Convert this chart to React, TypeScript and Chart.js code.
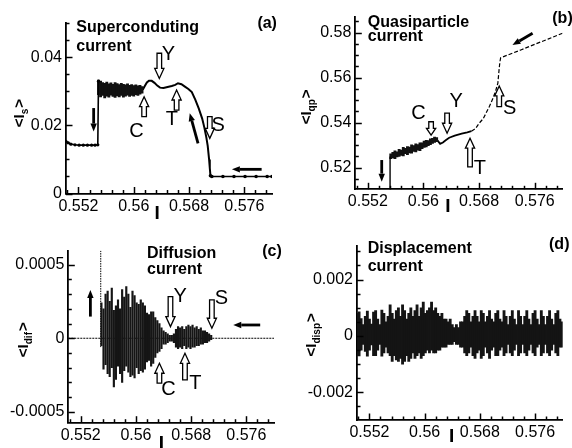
import React, { useEffect, useRef } from 'react';
import { Chart, registerables } from 'chart.js';
Chart.register(...registerables);

const W = 572;
const H = 448;
const FONT = '"Liberation Sans", Arial, Helvetica, sans-serif';

// ---------- shared axis data ----------
const X_MIN = 0.5502;
const X_MAX = 0.58;
const xTickValues = [0.552, 0.56, 0.568, 0.576];

// ---------- panel (a): superconducting current ----------
const aTicks = [0, 0.02, 0.04];
const aLeftX = [0.5502, 0.5505, 0.5509, 0.5515, 0.5521, 0.5527, 0.5533, 0.5539, 0.5544, 0.5548, 0.5549];
const aLeftY = [0.0153, 0.0149, 0.0145, 0.0143, 0.0142, 0.0142, 0.0142, 0.0142, 0.0142, 0.0143, 0.0330];
const aNoiseX = [0.5549, 0.5552, 0.5555, 0.5558, 0.5561, 0.5564, 0.5567, 0.557, 0.5573, 0.5576, 0.5579, 0.5582, 0.5585, 0.5588, 0.5591, 0.5594, 0.5597, 0.56, 0.5603, 0.5606, 0.5609, 0.5612];
const aNoiseLo = [0.029, 0.0284, 0.0288, 0.0281, 0.0286, 0.0283, 0.0289, 0.0285, 0.0282, 0.0287, 0.0284, 0.0288, 0.0283, 0.0286, 0.0289, 0.0285, 0.0288, 0.0286, 0.029, 0.0288, 0.0292, 0.0295];
const aNoiseHi = [0.0333, 0.033, 0.0326, 0.0324, 0.0327, 0.0322, 0.0325, 0.0321, 0.0326, 0.0323, 0.032, 0.0324, 0.0321, 0.0319, 0.0322, 0.0318, 0.032, 0.0317, 0.0319, 0.0316, 0.0318, 0.0314];
const aMidX = [0.5613, 0.5616, 0.5619, 0.5622, 0.5626, 0.563, 0.5634, 0.5638, 0.5643, 0.5649, 0.5655, 0.566, 0.5664, 0.5669, 0.5674, 0.5679, 0.5684, 0.5689, 0.5694, 0.5699, 0.5702, 0.5705, 0.5707, 0.5709, 0.571, 0.5711];
const aMidY = [0.0305, 0.0316, 0.0326, 0.0331, 0.0331, 0.0325, 0.0317, 0.0311, 0.031, 0.0313, 0.0316, 0.0319, 0.0324, 0.0321, 0.0314, 0.0307, 0.0298, 0.0276, 0.025, 0.022, 0.0195, 0.0165, 0.014, 0.01, 0.0075, 0.0052];
const aRightX = [0.5711, 0.5713, 0.5729, 0.5745, 0.5761, 0.5777, 0.5793, 0.58];
const aRightY = [0.0052, 0.005, 0.005, 0.005, 0.005, 0.005, 0.005, 0.005];

// ---------- panel (b): quasiparticle current ----------
const bTicks = [0.52, 0.54, 0.56, 0.58];
const bRiseX = [0.5552, 0.5552];
const bRiseY = [0.505, 0.525];
const bNoiseX = [0.5553, 0.5556, 0.5559, 0.5562, 0.5565, 0.5568, 0.5571, 0.5574, 0.5577, 0.558, 0.5583, 0.5586, 0.5589, 0.5592, 0.5595, 0.5598, 0.5601, 0.5604, 0.5607, 0.561, 0.5613, 0.5616, 0.5619];
const bNoiseLo = [0.524, 0.5243, 0.524, 0.5248, 0.525, 0.5255, 0.5252, 0.5262, 0.5258, 0.5266, 0.5264, 0.5272, 0.527, 0.5278, 0.5276, 0.5284, 0.529, 0.5292, 0.5298, 0.5302, 0.5308, 0.5312, 0.5316];
const bNoiseHi = [0.5262, 0.5268, 0.5275, 0.527, 0.5282, 0.5278, 0.529, 0.5286, 0.5294, 0.5292, 0.5301, 0.5298, 0.5306, 0.5303, 0.531, 0.531, 0.5318, 0.5322, 0.532, 0.5328, 0.533, 0.5336, 0.5334];
const bMidX = [0.5619, 0.5621, 0.5624, 0.5628, 0.5632, 0.5637, 0.5645, 0.5655, 0.5663, 0.5669];
const bMidY = [0.5325, 0.5318, 0.5306, 0.5312, 0.5322, 0.5333, 0.5342, 0.5351, 0.5357, 0.5362];
const bUpX = [0.5669, 0.5675, 0.568, 0.5686, 0.569, 0.5695, 0.57, 0.5704, 0.5707, 0.5709, 0.571, 0.5711, 0.572, 0.574, 0.576, 0.578, 0.58];
const bUpY = [0.5362, 0.5374, 0.5397, 0.5418, 0.5442, 0.5473, 0.5508, 0.5543, 0.5575, 0.5642, 0.567, 0.5688, 0.5699, 0.5723, 0.5748, 0.5772, 0.5797];

// ---------- panel (c): diffusion current ----------
const cTicks = [-0.0005, 0, 0.0005];
const cZeroX = [0.5502, 0.58];
const cZeroY = [0, 0];
const cSpikeX = [0.5549, 0.5549];
const cSpikeY = [-0.00006, 0.0006];
const cNoiseX = [0.555, 0.5553, 0.5556, 0.5559, 0.5562, 0.5565, 0.5568, 0.5571, 0.5574, 0.5577, 0.558, 0.5583, 0.5586, 0.5589, 0.5592, 0.5595, 0.5598, 0.5601, 0.5604, 0.5607, 0.561, 0.5613, 0.5616, 0.5619, 0.5622, 0.5625, 0.5628, 0.5631, 0.5634, 0.5637, 0.564, 0.5643, 0.5646, 0.5649, 0.5652, 0.5655, 0.5658, 0.5661, 0.5664, 0.5667, 0.567, 0.5673, 0.5676, 0.5679, 0.5682, 0.5685, 0.5688, 0.5691, 0.5694, 0.5697, 0.57, 0.5703, 0.5706, 0.5709];
const cNoiseHi = [0.00024, 0.0002, 0.0003, 0.00032, 0.00025, 0.00034, 0.00019, 0.00022, 0.00026, 0.0002, 0.00033, 0.00028, 0.00035, 0.0003, 0.00021, 0.00032, 0.00029, 0.00024, 0.00023, 0.00026, 0.00024, 0.00022, 0.00017, 0.00016, 0.00018, 0.00018, 0.00014, 0.00012, 0.0001, 0.00007, 0.00005, 0.00004, 0.00003, 0.00002, 0.00002, 0.00003, 0.00006, 0.00008, 0.00007, 0.00008, 0.00006, 0.00008, 0.00009, 0.00008, 0.00009, 0.00007, 0.00008, 0.00006, 0.00007, 0.00005, 0.00005, 0.00004, 0.00003, 0.00002];
const cNoiseLo = [-0.00005, -0.00021, -0.00018, -0.00024, -0.00026, -0.0002, -0.00033, -0.00028, -0.00019, -0.00024, -0.0003, -0.00022, -0.00019, -0.00023, -0.00026, -0.00025, -0.00027, -0.0002, -0.00024, -0.00022, -0.00023, -0.00021, -0.00016, -0.00015, -0.00019, -0.00017, -0.00013, -0.0001, -0.00009, -0.00007, -0.00004, -0.00004, -0.00003, -0.00002, -0.00002, -0.00003, -0.00006, -0.00007, -0.00006, -0.00007, -0.00005, -0.00007, -0.00006, -0.00007, -0.00006, -0.00006, -0.00005, -0.00005, -0.00004, -0.00004, -0.00003, -0.00003, -0.00002, -0.00001];

// ---------- panel (d): displacement current ----------
const dTicks = [-0.002, 0, 0.002];
const dNoiseX = [0.5502, 0.5505, 0.5508, 0.5511, 0.5514, 0.5517, 0.552, 0.5523, 0.5526, 0.5529, 0.5532, 0.5535, 0.5538, 0.5541, 0.5544, 0.5547, 0.555, 0.5553, 0.5556, 0.5559, 0.5562, 0.5565, 0.5568, 0.5571, 0.5574, 0.5577, 0.558, 0.5583, 0.5586, 0.5589, 0.5592, 0.5595, 0.5598, 0.5601, 0.5604, 0.5607, 0.561, 0.5613, 0.5616, 0.5619, 0.5622, 0.5625, 0.5628, 0.5631, 0.5634, 0.5637, 0.564, 0.5643, 0.5646, 0.5649, 0.5652, 0.5655, 0.5658, 0.5661, 0.5664, 0.5667, 0.567, 0.5673, 0.5676, 0.5679, 0.5682, 0.5685, 0.5688, 0.5691, 0.5694, 0.5697, 0.57, 0.5703, 0.5706, 0.5709, 0.5712, 0.5715, 0.5718, 0.5721, 0.5724, 0.5727, 0.573, 0.5733, 0.5736, 0.5739, 0.5742, 0.5745, 0.5748, 0.5751, 0.5754, 0.5757, 0.576, 0.5763, 0.5766, 0.5769, 0.5772, 0.5775, 0.5778, 0.5781, 0.5784, 0.5787, 0.579, 0.5793, 0.5796, 0.5799];
const dNoiseHi = [0.0008, 0.00086, 0.00062, 0.0004, 0.0007, 0.00088, 0.0006, 0.00042, 0.00085, 0.0009, 0.0006, 0.0004, 0.00092, 0.0008, 0.0005, 0.0007, 0.0011, 0.0008, 0.0006, 0.0009, 0.001, 0.0007, 0.0011, 0.0009, 0.0006, 0.0008, 0.001, 0.0007, 0.0009, 0.0011, 0.0007, 0.001, 0.0012, 0.0008, 0.0009, 0.001, 0.0012, 0.0009, 0.001, 0.0008, 0.0007, 0.0008, 0.0006, 0.0006, 0.0005, 0.0006, 0.0004, 0.0003, 0.0004, 0.0003, 0.0005, 0.0005, 0.0007, 0.0009, 0.0008, 0.0005, 0.0007, 0.0009, 0.0007, 0.0005, 0.0009, 0.0008, 0.0005, 0.0007, 0.0009, 0.0006, 0.0005, 0.0008, 0.0009, 0.0006, 0.0005, 0.0009, 0.0007, 0.0004, 0.0007, 0.0009, 0.0006, 0.0004, 0.0009, 0.0007, 0.0004, 0.0007, 0.0009, 0.0006, 0.0004, 0.0008, 0.0009, 0.0006, 0.0004, 0.0009, 0.0007, 0.0004, 0.0007, 0.0009, 0.0006, 0.0004, 0.0008, 0.0009, 0.0006, 0.0005];
const dNoiseLo = [-0.0007, -0.00071, -0.0005, -0.0003, -0.00055, -0.00072, -0.0005, -0.00032, -0.0007, -0.0007, -0.0005, -0.0003, -0.00072, -0.0006, -0.0004, -0.0006, -0.0007, -0.0009, -0.0007, -0.00085, -0.0009, -0.0008, -0.001, -0.0009, -0.0007, -0.0009, -0.0008, -0.0006, -0.0008, -0.0007, -0.0006, -0.0008, -0.0007, -0.0006, -0.0005, -0.0006, -0.0005, -0.0006, -0.0006, -0.0005, -0.0005, -0.0004, -0.0004, -0.0004, -0.0003, -0.0003, -0.0003, -0.0002, -0.0003, -0.0003, -0.0004, -0.0004, -0.0006, -0.0007, -0.0006, -0.0004, -0.0007, -0.0008, -0.0006, -0.0005, -0.0008, -0.0007, -0.0004, -0.0006, -0.0008, -0.0005, -0.0004, -0.0007, -0.0007, -0.0005, -0.0004, -0.0007, -0.0006, -0.0003, -0.0006, -0.0007, -0.0005, -0.0003, -0.0007, -0.0006, -0.0003, -0.0006, -0.0007, -0.0005, -0.0003, -0.0006, -0.0007, -0.0004, -0.0003, -0.0007, -0.0006, -0.0003, -0.0006, -0.0007, -0.0005, -0.0003, -0.0006, -0.0007, -0.0004, -0.0004];

// ---------- helpers ----------
const pts = (xs: number[], ys: number[]) => xs.map((x, i) => ({ x, y: ys[i] }));
const cols = (xs: number[], lo: number[], hi: number[]) => xs.map((x, i) => ({ x, y: [lo[i], hi[i]] }));

const lineDs = (data: any[], extra: any = {}) => ({
  type: 'line',
  data,
  borderColor: '#000',
  backgroundColor: '#000',
  borderWidth: 1.6,
  pointRadius: 0,
  pointBorderWidth: 0,
  pointBackgroundColor: '#000',
  tension: 0,
  fill: false,
  ...extra,
});
const barDs = (data: any[], thick: number, color = '#111') => ({
  type: 'bar',
  data,
  backgroundColor: color,
  borderWidth: 0,
  barThickness: thick,
  grouped: false,
});

type Spec = {
  area: { left: number; top: number; right: number; bottom: number };
  yMin: number; yMax: number; yTicks: number[]; yMinor: number[];
  datasets: any[];
  titles: { text: string; x: number; y: number }[];
  tag: { text: string; x: number; y: number };
  hollow: { x: number; tail: number; tip: number }[];
  solid: { x1: number; y1: number; x2: number; y2: number }[];
  letters: { t: string; x: number; y: number }[];
  yTitle: { sub: string; dx: number; y: number };
  xTitle: { x: number; dy: number };
};

const xMinor: number[] = [];
for (let k = 0; 0.5504 + k * 0.0016 <= X_MAX + 1e-9; k++) xMinor.push(+(0.5504 + k * 0.0016).toFixed(5));
const range = (a: number, b: number, s: number) => {
  const r: number[] = [];
  for (let k = 0; a + k * s <= b + s * 1e-6; k++) r.push(+(a + k * s).toFixed(6));
  return r;
};

const specs: Spec[] = [
  {
    area: { left: 66, top: 23.3, right: 272, bottom: 193.5 },
    yMin: 0, yMax: 0.05, yTicks: aTicks, yMinor: range(0, 0.05, 0.005),
    datasets: [
      lineDs(pts(aLeftX, aLeftY), { pointRadius: 1.6 }),
      barDs(cols(aNoiseX, aNoiseLo, aNoiseHi), 2.2),
      lineDs(pts(aMidX, aMidY), { borderWidth: 2 }),
      lineDs(pts(aRightX, aRightY), { pointRadius: 1.8, borderWidth: 1.3 }),
    ],
    titles: [{ text: 'Superconduting', x: 0.5517, y: 0.0486 }, { text: 'current', x: 0.5517, y: 0.0431 }],
    tag: { text: '(a)', x: 0.5793, y: 0.05 },
    hollow: [
      { x: 0.5615, tail: 0.0226, tip: 0.0284 },
      { x: 0.5637, tail: 0.0412, tip: 0.0338 },
      { x: 0.5662, tail: 0.0245, tip: 0.0304 },
      { x: 0.571, tail: 0.0226, tip: 0.0162 },
    ],
    solid: [
      { x1: 0.5542, y1: 0.0251, x2: 0.5542, y2: 0.0182 },
      { x1: 0.5693, y1: 0.0147, x2: 0.5681, y2: 0.0236 },
      { x1: 0.5785, y1: 0.0071, x2: 0.5742, y2: 0.0071 },
    ],
    letters: [
      { t: 'C', x: 0.5604, y: 0.0182 },
      { t: 'Y', x: 0.565, y: 0.0407 },
      { t: 'T', x: 0.5655, y: 0.0216 },
      { t: 'S', x: 0.5722, y: 0.0201 },
    ],
    yTitle: { sub: 's', dx: -46, y: 0.0236 },
    xTitle: { x: 0.5634, dy: 13.5 },
  },
  {
    area: { left: 355.3, top: 17.3, right: 562.5, bottom: 189.3 },
    yMin: 0.5104, yMax: 0.5868, yTicks: bTicks, yMinor: range(0.515, 0.585, 0.005),
    datasets: [
      lineDs(pts(bRiseX, bRiseY), { borderWidth: 1.4 }),
      barDs(cols(bNoiseX, bNoiseLo, bNoiseHi), 2.2),
      lineDs(pts(bMidX, bMidY), { borderWidth: 1.8 }),
      lineDs(pts(bUpX, bUpY), { borderWidth: 1.2, borderDash: [4, 2] }),
    ],
    titles: [{ text: 'Quasiparticle', x: 0.552, y: 0.5844 }, { text: 'current', x: 0.552, y: 0.5782 }],
    tag: { text: '(b)', x: 0.58, y: 0.5864 },
    hollow: [
      { x: 0.5611, tail: 0.5404, tip: 0.5345 },
      { x: 0.5634, tail: 0.5442, tip: 0.5353 },
      { x: 0.5667, tail: 0.5204, tip: 0.5331 },
      { x: 0.5709, tail: 0.5471, tip: 0.5563 },
    ],
    solid: [
      { x1: 0.554, y1: 0.5234, x2: 0.554, y2: 0.5138 },
      { x1: 0.5757, y1: 0.5797, x2: 0.5728, y2: 0.5745 },
    ],
    letters: [
      { t: 'C', x: 0.5593, y: 0.5442 },
      { t: 'Y', x: 0.5647, y: 0.5493 },
      { t: 'T', x: 0.5681, y: 0.5197 },
      { t: 'S', x: 0.5724, y: 0.5464 },
    ],
    yTitle: { sub: 'qp', dx: -48, y: 0.547 },
    xTitle: { x: 0.5635, dy: 10.7 },
  },
  {
    area: { left: 68.3, top: 250.7, right: 274, bottom: 422.7 },
    yMin: -0.000573, yMax: 0.000594, yTicks: cTicks, yMinor: range(-0.0005, 0.0005, 0.0001),
    datasets: [
      barDs(cols(cNoiseX, cNoiseLo, cNoiseHi), 1.5, '#151515'),
      lineDs(pts(cSpikeX, cSpikeY), { borderWidth: 1, borderDash: [1.5, 1] }),
      lineDs(pts(cZeroX, cZeroY), { borderWidth: 1.2, borderDash: [2, 1] }),
    ],
    titles: [{ text: 'Diffusion', x: 0.5616, y: 0.000577 }, { text: 'current', x: 0.5616, y: 0.000463 }],
    tag: { text: '(c)', x: 0.5797, y: 0.000588 },
    hollow: [
      { x: 0.565, tail: 0.000282, tip: 0.000079 },
      { x: 0.571, tail: 0.00026, tip: 0.000068 },
      { x: 0.5634, tail: -0.000305, tip: -0.00017 },
      { x: 0.5671, tail: -0.000283, tip: -0.000102 },
    ],
    solid: [
      { x1: 0.5534, y1: 0.000147, x2: 0.5534, y2: 0.000328 },
      { x1: 0.578, y1: 0.00009, x2: 0.5741, y2: 0.00009 },
    ],
    letters: [
      { t: 'Y', x: 0.5664, y: 0.000282 },
      { t: 'S', x: 0.5724, y: 0.000271 },
      { t: 'C', x: 0.5647, y: -0.00035 },
      { t: 'T', x: 0.5686, y: -0.000305 },
    ],
    yTitle: { sub: 'dif', dx: -44, y: -0.00001 },
    xTitle: { x: 0.5637, dy: 14.3 },
  },
  {
    area: { left: 357, top: 246, right: 562.7, bottom: 420 },
    yMin: -0.00298, yMax: 0.00319, yTicks: dTicks, yMinor: range(-0.0025, 0.003, 0.0005),
    datasets: [barDs(cols(dNoiseX, dNoiseLo, dNoiseHi), 2.2, '#141414')],
    titles: [{ text: 'Displacement', x: 0.55175, y: 0.00311 }, { text: 'current', x: 0.55175, y: 0.00246 }],
    tag: { text: '(d)', x: 0.5795, y: 0.00323 },
    hollow: [],
    solid: [],
    letters: [],
    yTitle: { sub: 'disp', dx: -45, y: 0.00004 },
    xTitle: { x: 0.5639, dy: 10 },
  },
];

function hollowArrow(ctx: CanvasRenderingContext2D, x: number, yTail: number, yTip: number) {
  const dir = Math.sign(yTip - yTail);
  const len = Math.abs(yTip - yTail);
  const headL = Math.min(10, len * 0.5);
  const headW = 4.6;
  const shaftW = 2.3;
  const yBase = yTip - dir * headL;
  ctx.beginPath();
  ctx.moveTo(x - shaftW, yTail);
  ctx.lineTo(x - shaftW, yBase);
  ctx.lineTo(x - headW, yBase);
  ctx.lineTo(x, yTip);
  ctx.lineTo(x + headW, yBase);
  ctx.lineTo(x + shaftW, yBase);
  ctx.lineTo(x + shaftW, yTail);
  ctx.closePath();
  ctx.fillStyle = '#fff';
  ctx.fill();
  ctx.lineWidth = 1.3;
  ctx.strokeStyle = '#000';
  ctx.stroke();
}

function solidArrow(ctx: CanvasRenderingContext2D, x1: number, y1: number, x2: number, y2: number) {
  const ang = Math.atan2(y2 - y1, x2 - x1);
  const headL = 8;
  const headW = 3.2;
  const bx = x2 - Math.cos(ang) * headL;
  const by = y2 - Math.sin(ang) * headL;
  ctx.beginPath();
  ctx.moveTo(x1, y1);
  ctx.lineTo(bx, by);
  ctx.lineWidth = 2.8;
  ctx.strokeStyle = '#000';
  ctx.stroke();
  ctx.beginPath();
  ctx.moveTo(x2, y2);
  ctx.lineTo(bx + Math.sin(ang) * headW, by - Math.cos(ang) * headW);
  ctx.lineTo(bx - Math.sin(ang) * headW, by + Math.cos(ang) * headW);
  ctx.closePath();
  ctx.fillStyle = '#000';
  ctx.fill();
}

function drawDecor(chart: any, spec: Spec) {
  const ctx: CanvasRenderingContext2D = chart.ctx;
  const ca = chart.chartArea;
  const xs = chart.scales.x;
  const ys = chart.scales.y;
  const px = (v: number) => xs.getPixelForValue(v);
  const py = (v: number) => ys.getPixelForValue(v);
  ctx.save();
  // inward ticks
  ctx.strokeStyle = '#000';
  ctx.lineWidth = 1.5;
  for (const t of xMinor) {
    const major = xTickValues.some((m) => Math.abs(m - t) < 1e-6);
    const X = Math.round(px(t)) + 0.5;
    ctx.beginPath();
    ctx.moveTo(X, ca.bottom);
    ctx.lineTo(X, ca.bottom - (major ? 6.5 : 3.5));
    ctx.stroke();
  }
  for (const t of spec.yMinor) {
    const major = spec.yTicks.some((m) => Math.abs(m - t) < 1e-9);
    const Y = Math.round(py(t)) + 0.5;
    ctx.beginPath();
    ctx.moveTo(ca.left, Y);
    ctx.lineTo(ca.left + (major ? 6.5 : 3.5), Y);
    ctx.stroke();
  }
  // titles
  ctx.fillStyle = '#000';
  ctx.font = `bold 16px ${FONT}`;
  ctx.textAlign = 'left';
  ctx.textBaseline = 'middle';
  for (const t of spec.titles) ctx.fillText(t.text, px(t.x), py(t.y));
  ctx.textAlign = 'center';
  ctx.fillText(spec.tag.text, px(spec.tag.x), py(spec.tag.y));
  // arrows
  for (const a of spec.hollow) hollowArrow(ctx, px(a.x), py(a.tail), py(a.tip));
  for (const a of spec.solid) solidArrow(ctx, px(a.x1), py(a.y1), px(a.x2), py(a.y2));
  // letters
  ctx.fillStyle = '#000';
  ctx.font = `20px ${FONT}`;
  ctx.textAlign = 'center';
  ctx.textBaseline = 'middle';
  for (const l of spec.letters) ctx.fillText(l.t, px(l.x), py(l.y));
  // x title
  ctx.font = `bold 19px ${FONT}`;
  ctx.textBaseline = 'top';
  ctx.fillText('I', px(spec.xTitle.x), ca.bottom + spec.xTitle.dy - 3);
  // y title (rotated)
  ctx.save();
  ctx.translate(ca.left + spec.yTitle.dx, py(spec.yTitle.y));
  ctx.rotate(-Math.PI / 2);
  const big = `bold 15px ${FONT}`;
  const small = `bold 10px ${FONT}`;
  ctx.font = big;
  const w1 = ctx.measureText('<I').width;
  ctx.font = small;
  const w2 = ctx.measureText(spec.yTitle.sub).width;
  ctx.font = big;
  const w3 = ctx.measureText('>').width;
  const total = w1 + w2 + w3 + 1;
  let cx = -total / 2;
  ctx.textAlign = 'left';
  ctx.textBaseline = 'middle';
  ctx.fillText('<I', cx, 0);
  cx += w1;
  ctx.font = small;
  ctx.fillText(spec.yTitle.sub, cx, 5);
  cx += w2 + 1;
  ctx.font = big;
  ctx.fillText('>', cx, 0);
  ctx.restore();
  ctx.restore();
}

function buildChart(canvas: HTMLCanvasElement, spec: Spec) {
  const a = spec.area;
  const Y_W = a.left - 1;
  const X_H = 20;
  return new Chart(canvas, {
    type: 'line',
    data: { datasets: spec.datasets },
    options: {
      animation: false,
      responsive: false,
      maintainAspectRatio: false,
      devicePixelRatio: 1,
      events: [],
      layout: {
        padding: { left: a.left - Y_W, right: W - a.right, top: a.top, bottom: H - a.bottom - X_H },
      },
      plugins: { legend: { display: false }, tooltip: { enabled: false }, title: { display: false } },
      scales: {
        x: {
          type: 'linear',
          position: 'bottom',
          min: X_MIN,
          max: X_MAX,
          offset: false,
          grid: { display: false, drawTicks: false },
          border: { display: true, color: '#000', width: 1.8 },
          ticks: {
            autoSkip: false,
            maxRotation: 0,
            padding: 3,
            color: '#000',
            font: { family: FONT, size: 16 },
            callback: (v: any) => String(v),
          },
          afterBuildTicks: (s: any) => {
            s.ticks = xTickValues.map((v) => ({ value: v }));
          },
          afterFit: (s: any) => {
            s.height = X_H;
          },
        },
        y: {
          type: 'linear',
          position: 'left',
          min: spec.yMin,
          max: spec.yMax,
          grid: { display: false, drawTicks: false },
          border: { display: true, color: '#000', width: 1.8 },
          ticks: {
            autoSkip: false,
            padding: 4,
            color: '#000',
            font: { family: FONT, size: 16 },
            callback: (v: any) => String(v),
          },
          afterBuildTicks: (s: any) => {
            s.ticks = spec.yTicks.map((v) => ({ value: v }));
          },
          afterFit: (s: any) => {
            s.width = Y_W;
          },
        },
      },
    } as any,
    plugins: [{ id: 'decor', afterDraw: (chart: any) => drawDecor(chart, spec) }],
  } as any);
}

function Panel({ spec }: { spec: Spec }) {
  const ref = useRef<HTMLCanvasElement>(null);
  useEffect(() => {
    const chart = buildChart(ref.current as HTMLCanvasElement, spec);
    return () => chart.destroy();
  }, [spec]);
  return (
    <canvas
      ref={ref}
      width={W}
      height={H}
      style={{ position: 'absolute', left: 0, top: 0, width: W, height: H }}
    />
  );
}

export default function App() {
  return (
    <div style={{ position: 'fixed', left: 0, top: 0, width: W, height: H, background: '#fff', overflow: 'hidden' }}>
      {specs.map((s, i) => (
        <Panel key={i} spec={s} />
      ))}
    </div>
  );
}
